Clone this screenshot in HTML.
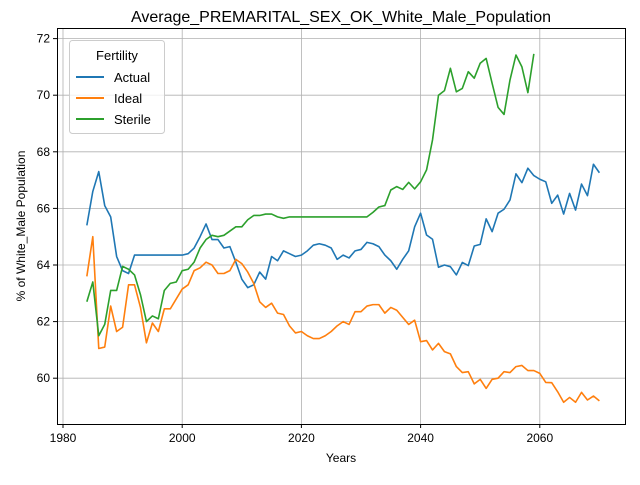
<!DOCTYPE html>
<html><head><meta charset="utf-8"><style>
body{margin:0;background:#fff;}
svg text{font-family:"Liberation Sans","DejaVu Sans",sans-serif;}
</style></head><body>
<svg id="chart" width="640" height="480" xmlns="http://www.w3.org/2000/svg">
<rect width="640" height="480" fill="#fff"/>
<g id="grid"></g>
<g id="lines"></g>
<rect x="57.5" y="28.5" width="568" height="396" fill="none" stroke="#000" stroke-width="1"/>
<g id="axes"></g>
<text x="341" y="22" font-size="16" text-anchor="middle">Average_PREMARITAL_SEX_OK_White_Male_Population</text>
<text x="341" y="462" font-size="12" text-anchor="middle">Years</text>
<text x="0" y="0" font-size="12" text-anchor="middle" transform="translate(25,226) rotate(-90)">% of White_Male Population</text>
<g>
<rect x="69.5" y="40.5" width="95" height="93" rx="3" fill="#fff" fill-opacity="0.8" stroke="#ccc"/>
<text x="117" y="60" font-size="13" text-anchor="middle">Fertility</text>
<g><line x1="76" y1="77" x2="104" y2="77" stroke="#1f77b4" stroke-width="2"/><text x="114" y="82" font-size="13">Actual</text></g>
<g><line x1="76" y1="98" x2="104" y2="98" stroke="#ff7f0e" stroke-width="2"/><text x="114" y="103" font-size="13">Ideal</text></g>
<g><line x1="76" y1="119" x2="104" y2="119" stroke="#2ca02c" stroke-width="2"/><text x="114" y="124" font-size="13">Sterile</text></g>
</g>
</svg>
<script>
const startYear = 1984;
const actual = [65.4,66.6,67.3,66.1,65.7,64.3,63.8,63.7,64.35,64.35,64.35,64.35,64.35,64.35,64.35,64.35,64.35,64.4,64.6,65.0,65.45,64.9,64.9,64.6,64.65,64.1,63.5,63.2,63.3,63.75,63.5,64.3,64.15,64.5,64.4,64.3,64.35,64.5,64.7,64.75,64.7,64.6,64.2,64.35,64.25,64.5,64.55,64.8,64.75,64.65,64.35,64.15,63.85,64.2,64.5,65.35,65.83,65.06,64.91,63.92,64.0,63.94,63.65,64.09,63.98,64.67,64.73,65.63,65.18,65.83,65.97,66.3,67.22,66.91,67.42,67.16,67.03,66.94,66.18,66.47,65.8,66.53,65.94,66.86,66.45,67.56,67.26];
const ideal = [63.6,65.0,61.05,61.1,62.55,61.65,61.8,63.3,63.3,62.5,61.25,61.95,61.65,62.45,62.45,62.8,63.15,63.3,63.8,63.9,64.1,64.0,63.7,63.7,63.8,64.2,64.05,63.75,63.35,62.7,62.5,62.65,62.3,62.25,61.85,61.6,61.65,61.5,61.4,61.4,61.5,61.65,61.85,62.0,61.9,62.35,62.35,62.55,62.6,62.6,62.3,62.5,62.4,62.15,61.9,62.05,61.29,61.33,61.0,61.23,60.94,60.86,60.41,60.2,60.23,59.8,59.96,59.64,59.96,60.0,60.23,60.2,60.41,60.45,60.27,60.27,60.17,59.85,59.84,59.52,59.15,59.32,59.15,59.5,59.23,59.37,59.2];
const sterile = [62.7,63.4,61.5,61.9,63.1,63.1,63.95,63.85,63.65,62.95,62.0,62.2,62.1,63.1,63.35,63.4,63.8,63.85,64.1,64.6,64.9,65.05,65.0,65.05,65.2,65.35,65.35,65.6,65.75,65.75,65.8,65.8,65.7,65.65,65.7,65.7,65.7,65.7,65.7,65.7,65.7,65.7,65.7,65.7,65.7,65.7,65.7,65.7,65.86,66.05,66.1,66.65,66.77,66.67,66.92,66.69,66.94,67.36,68.42,70.0,70.16,70.95,70.12,70.24,70.83,70.6,71.13,71.3,70.42,69.57,69.32,70.54,71.42,71.0,70.09,71.46];
const xTicks = [1980,2000,2020,2040,2060];
const yTicks = [60,62,64,66,68,70,72];

const NS="http://www.w3.org/2000/svg";
function xs(y){return 63+(y-1980)*5.96;}
function ys(v){return 265-(v-64)*28.3;}
const grid=document.getElementById('grid'), axes=document.getElementById('axes'), lines=document.getElementById('lines');
function mk(tag,attrs,parent){const e=document.createElementNS(NS,tag);for(const k in attrs)e.setAttribute(k,attrs[k]);parent.appendChild(e);return e;}
xTicks.forEach(t=>{const x=xs(t);
 const g=mk('line',{x1:x,x2:x,y1:28,y2:424,stroke:'#b0b0b0','stroke-width':0.8},grid);
 
 
 mk('line',{x1:x,x2:x,y1:424,y2:428,stroke:'#000'},axes);
 const tx=mk('text',{x:x,y:442,'font-size':12,'text-anchor':'middle'},axes);tx.textContent=t;
 
 
});
yTicks.forEach(t=>{const y=ys(t);
 const g=mk('line',{x1:57,x2:625,y1:y,y2:y,stroke:'#b0b0b0','stroke-width':0.8},grid);
 
 
 mk('line',{x1:53,x2:57,y1:y,y2:y,stroke:'#000'},axes);
 const tx=mk('text',{x:50,y:y+4,'font-size':12,'text-anchor':'end'},axes);tx.textContent=t;
 
 
});
function draw(arr,color,name){
 const pts=arr.map((v,i)=>xs(startYear+i).toFixed(2)+','+ys(v).toFixed(2)).join(' ');
 const p=mk('polyline',{points:pts,fill:'none',stroke:color,'stroke-width':1.6,'stroke-linejoin':'round'},lines);
 
 
}
draw(actual,'#1f77b4','actual-line');
draw(ideal,'#ff7f0e','ideal-line');
draw(sterile,'#2ca02c','sterile-line');
</script>
</body></html>
